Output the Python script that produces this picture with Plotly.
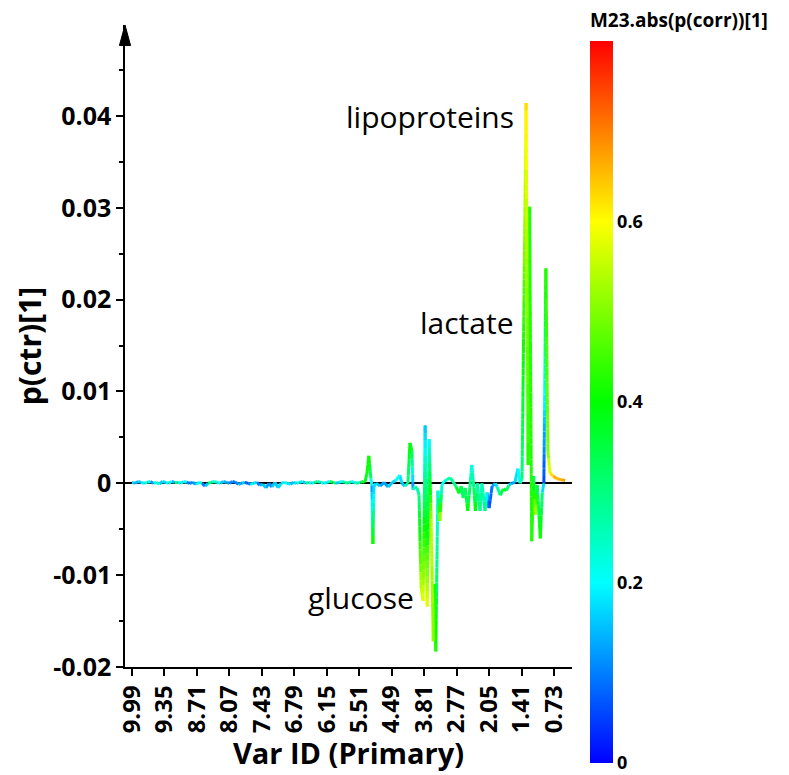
import plotly.graph_objects as go

# ---------------- data ----------------
# variable index (Primary ID order), loading p(ctr)[1], colour |p(corr)|[1]
noise_idx = list(range(0, 457, 6))
noise_p = [
    0.0001, 0.0000, 0.0002, 0.0001, 0.0000, 0.0001, 0.0002, 0.0000, 0.0001, -0.0001,
    0.0002, 0.0001, 0.0000, 0.0002, 0.0001, 0.0001, 0.0000, 0.0002, 0.0001, 0.0000,
    0.0001, -0.0001, 0.0001, 0.0000, -0.0003, 0.0000, 0.0001, 0.0002, 0.0001, 0.0000,
    0.0002, 0.0001, 0.0000, 0.0002, 0.0001, -0.0001, 0.0000, 0.0001, 0.0000, -0.0001,
    0.0000, 0.0001, -0.0002, -0.0001, -0.0005, 0.0000, -0.0004, 0.0001, -0.0005, 0.0000,
    0.0001, 0.0000, -0.0001, 0.0001, 0.0000, 0.0001, 0.0002, 0.0000, 0.0001, 0.0000,
    0.0001, 0.0002, 0.0001, 0.0000, 0.0001, 0.0002, 0.0001, 0.0000, 0.0001, 0.0002,
    0.0001, 0.0000, 0.0002, 0.0001, 0.0000, 0.0001, 0.0002,
]
noise_c = [
    0.10, 0.20, 0.08, 0.25, 0.12, 0.30, 0.15, 0.08, 0.35, 0.10,
    0.22, 0.12, 0.30, 0.08, 0.20, 0.35, 0.10, 0.28, 0.12, 0.05,
    0.18, 0.08, 0.30, 0.12, 0.06, 0.25, 0.38, 0.15, 0.30, 0.10,
    0.22, 0.08, 0.18, 0.05, 0.12, 0.08, 0.20, 0.10, 0.06, 0.15,
    0.25, 0.10, 0.08, 0.20, 0.10, 0.15, 0.08, 0.22, 0.10, 0.25,
    0.12, 0.30, 0.08, 0.20, 0.15, 0.28, 0.10, 0.22, 0.32, 0.12,
    0.25, 0.35, 0.15, 0.28, 0.10, 0.30, 0.38, 0.20, 0.12, 0.30,
    0.22, 0.35, 0.15, 0.28, 0.20, 0.32, 0.38,
]

peak_idx = [
    459, 463, 467, 471, 473, 475, 477, 481, 489, 497, 505, 513, 520, 528, 532, 538,
    544, 548, 552, 554, 558, 562, 566, 570, 574, 578, 582, 586, 590, 594, 596, 599,
    603, 607, 611, 615, 621, 627, 633, 639, 645, 649, 653, 657, 662, 666, 670, 674,
    677, 681, 686, 690, 696, 700, 704, 710, 716, 720, 726, 732, 738, 743, 749, 755,
    761, 765, 769, 777, 781, 784, 788, 792, 795, 799, 805, 809, 812, 816, 820, 824,
    830, 838, 846, 854,
]
peak_p = [
    0.0001, 0.0010, 0.0030, 0.0005, -0.0002, -0.0066, -0.0003, 0.0000, -0.0003, 0.0001,
    -0.0004, 0.0001, 0.0003, 0.0009, 0.0000, -0.0003, 0.0000, 0.0044, 0.0035, -0.0007,
    -0.0004, -0.0005, -0.0013, -0.0114, -0.0128, 0.0063, -0.0134, 0.0048, -0.0048, -0.0172,
    -0.0110, -0.0183, -0.0008, -0.0041, -0.0002, 0.0002, 0.0004, 0.0006, 0.0002, -0.0004,
    -0.0011, -0.0003, -0.0016, -0.0005, -0.0030, -0.0005, 0.0020, -0.0005, -0.0030, 0.0000,
    -0.0030, 0.0000, -0.0030, -0.0010, -0.0027, -0.0003, 0.0000, -0.0004, -0.0013, -0.0006,
    -0.0008, -0.0002, 0.0000, 0.0001, 0.0016, 0.0000, 0.0005, 0.0414, 0.0020, 0.0301,
    -0.0063, 0.0008, -0.0034, -0.0002, -0.0060, -0.0010, 0.0000, 0.0234, 0.0035, 0.0011,
    0.0008, 0.0005, 0.0004, 0.0003,
]
peak_c = [
    0.35, 0.40, 0.42, 0.30, 0.10, 0.42, 0.15, 0.20, 0.10, 0.15,
    0.10, 0.20, 0.15, 0.25, 0.10, 0.20, 0.30, 0.40, 0.35, 0.10,
    0.35, 0.25, 0.30, 0.55, 0.58, 0.15, 0.58, 0.20, 0.55, 0.50,
    0.40, 0.42, 0.20, 0.55, 0.20, 0.20, 0.25, 0.30, 0.25, 0.35,
    0.40, 0.30, 0.35, 0.30, 0.40, 0.30, 0.20, 0.30, 0.40, 0.25,
    0.30, 0.25, 0.30, 0.15, 0.05, 0.10, 0.15, 0.20, 0.35, 0.35,
    0.40, 0.20, 0.10, 0.15, 0.20, 0.20, 0.30, 0.62, 0.42, 0.42,
    0.42, 0.30, 0.55, 0.30, 0.42, 0.30, 0.05, 0.42, 0.50, 0.60,
    0.65, 0.68, 0.65, 0.70,
]

var_idx = noise_idx + peak_idx
p_ctr = noise_p + peak_p
p_corr_abs = noise_c + peak_c

tick_idx = [0, 64, 128, 192, 256, 320, 384, 448, 512, 576, 640, 704, 768, 832]
tick_labels = ["9.99", "9.35", "8.71", "8.07", "7.43", "6.79", "6.15", "5.51",
               "4.49", "3.81", "2.77", "2.05", "1.41", "0.73"]
y_ticks = [-0.02, -0.01, 0, 0.01, 0.02, 0.03, 0.04]
y_labels = ["-0.02", "-0.01", "0", "0.01", "0.02", "0.03", "0.04"]
cb_ticks = [0, 0.2, 0.4, 0.6]
cb_labels = ["0", "0.2", "0.4", "0.6"]

annot_text = ["lipoproteins", "lactate", "glucose"]
annot_x = [757, 757, 560]
annot_y = [0.0399, 0.0175, -0.0124]

# ---------------- colour map (jet-like) ----------------
CMIN, CMAX = 0.0, 0.8
stops = [(0.0, (0, 0, 255)), (0.25, (0, 255, 255)), (0.5, (0, 255, 0)),
         (0.75, (255, 255, 0)), (1.0, (255, 0, 0))]
colorscale = [[s, "rgb(%d,%d,%d)" % c] for s, c in stops]


def cmap(v):
    f = min(max((v - CMIN) / (CMAX - CMIN), 0.0), 1.0)
    for (s0, c0), (s1, c1) in zip(stops[:-1], stops[1:]):
        if f <= s1:
            t = (f - s0) / (s1 - s0) if s1 > s0 else 0
            return tuple(c0[k] + (c1[k] - c0[k]) * t for k in range(3))
    return stops[-1][1]


# ---------------- build gradient-coloured line ----------------
NB = 48
bins = {b: ([], []) for b in range(NB)}
for i in range(len(var_idx) - 1):
    x0, x1 = var_idx[i], var_idx[i + 1]
    y0, y1 = p_ctr[i], p_ctr[i + 1]
    c0, c1 = p_corr_abs[i], p_corr_abs[i + 1]
    k = max(1, int(abs(y1 - y0) / 0.0008))
    for j in range(k):
        ta, tb = j / k, (j + 1) / k
        xa, xb = x0 + (x1 - x0) * ta, x0 + (x1 - x0) * tb
        ya, yb = y0 + (y1 - y0) * ta, y0 + (y1 - y0) * tb
        cm = c0 + (c1 - c0) * (ta + tb) / 2
        b = min(NB - 1, max(0, int((cm - CMIN) / (CMAX - CMIN) * NB)))
        bins[b][0].extend([xa, xb, None])
        bins[b][1].extend([ya, yb, None])

fig = go.Figure()
for b in range(NB):
    xs, ys = bins[b]
    if not xs:
        continue
    col = cmap(CMIN + (b + 0.5) / NB * (CMAX - CMIN))
    fig.add_trace(go.Scatter(
        x=xs, y=ys, mode="lines", hoverinfo="skip", showlegend=False,
        line=dict(color="rgb(%d,%d,%d)" % tuple(int(round(v)) for v in col), width=3),
    ))

# colour bar
fig.add_trace(go.Scatter(
    x=[None], y=[None], mode="markers", showlegend=False, hoverinfo="skip",
    marker=dict(color=[0], cmin=CMIN, cmax=CMAX, colorscale=colorscale, showscale=True,
                colorbar=dict(
                    x=1.04, xanchor="left", y=0.437, yanchor="middle",
                    lenmode="pixels", len=753, thickness=23, xpad=0, ypad=0,
                    outlinewidth=0, ticks="", tickvals=cb_ticks, ticktext=cb_labels,
                    tickfont=dict(family="Open Sans", size=18, color="black", weight="bold"),
                    title=dict(text="<b>M23.abs(p(corr))[1]</b>", side="top",
                               font=dict(family="Open Sans", size=19, color="black")),
                )),
))

for t, ax_, ay_ in zip(annot_text, annot_x, annot_y):
    fig.add_annotation(x=ax_, y=ay_, xref="x", yref="y", text=t, showarrow=False,
                       xanchor="right", yanchor="middle",
                       font=dict(family="Open Sans", size=30, color="black"))

# arrow head on the y axis
fig.add_shape(type="path", xref="paper", yref="paper",
              path="M -0.0125 0.968 L 0 1.0 L 0.0125 0.968 Z",
              fillcolor="black", line=dict(color="black", width=1))

fig.update_layout(
    width=789, height=775,
    margin=dict(l=125, r=217, t=25, b=108),
    paper_bgcolor="white", plot_bgcolor="white",
    xaxis=dict(
        range=[-13.8, 867.5], showgrid=False, zeroline=False,
        showline=True, linecolor="black", linewidth=1.5,
        ticks="outside", ticklen=7, tickwidth=1.5, tickcolor="black",
        tickvals=tick_idx, ticktext=tick_labels, tickangle=-90,
        tickfont=dict(family="Open Sans", size=24, color="black", weight="bold"),
        title=dict(text="<b>Var ID (Primary)</b>", standoff=0,
                   font=dict(family="Open Sans", size=29, color="black")),
    ),
    yaxis=dict(
        range=[-0.02, 0.0499], showgrid=False,
        zeroline=True, zerolinecolor="black", zerolinewidth=1.5,
        showline=True, linecolor="black", linewidth=1.5,
        ticks="outside", ticklen=7, tickwidth=1.5, tickcolor="black",
        tickvals=y_ticks, ticktext=y_labels,
        minor=dict(ticks="outside", ticklen=4, tickwidth=1.5, tickcolor="black", dtick=0.005,
                   tick0=0, showgrid=False),
        tickfont=dict(family="Open Sans", size=25, color="black", weight="bold"),
        title=dict(text="<b>p(ctr)[1]</b>", standoff=3,
                   font=dict(family="Open Sans", size=30, color="black")),
    ),
)

fig.write_html("out.html")
